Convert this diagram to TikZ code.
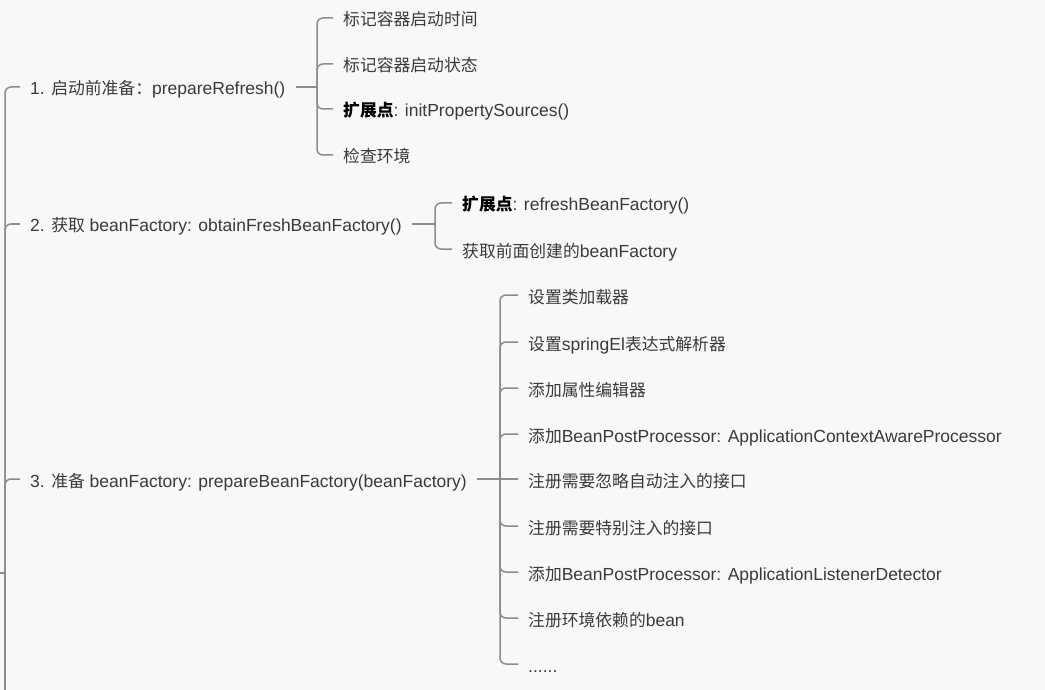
\documentclass[tikz,border=0pt]{standalone}
\usepackage{fontspec}
\setmainfont{Liberation Sans}
\newfontfamily\zh[Scale=0.96]{Noto Sans CJK SC}
\definecolor{bgcol}{HTML}{F8F8F8}
\definecolor{txtcol}{HTML}{3A3A3A}
\definecolor{linecol}{HTML}{8C8C8C}
\begin{document}
\begin{tikzpicture}[
x=1pt,
y=-1pt,
every node/.style={
anchor=west,
inner xsep=10pt,
inner ysep=0pt,
text height=17pt,
text depth=1pt,
text=txtcol,
font=\fontsize{17.5}{21}\selectfont
},
branch/.style={
draw=linecol,
line width=1.5pt,
rounded corners=6pt
}
]

\fill[bgcol] (0,0) rectangle (1045,690);
\useasboundingbox (0,0) rectangle (1045,690);

\coordinate (RootIn) at (-10,573);
\coordinate (RootJ) at (5,573);
\coordinate (RootEnd) at (5,700);

\node (Prep) at (20,87)
{1. {\zh 启动前准备：}prepareRefresh()};

\node (Obtain) at (20,224)
{2. {\zh 获取} beanFactory: obtainFreshBeanFactory()};

\node (PrepBF) at (20,479)
{3. {\zh 准备} beanFactory: prepareBeanFactory(beanFactory)};

\coordinate (PrepJ) at (317,87);

\node (MarkTime) at (333,18)
{\zh 标记容器启动时间};

\node (MarkState) at (333,64)
{\zh 标记容器启动状态};

\node (InitProp) at (333,109)
{{\zh\bfseries\color{black}扩展点}: initPropertySources()};

\node (CheckEnv) at (333,155)
{\zh 检查环境};

\coordinate (ObtainJ) at (435,224);

\node (RefreshBF) at (452,203)
{{\zh\bfseries\color{black}扩展点}: refreshBeanFactory()};

\node (GetBF) at (452,249)
{{\zh 获取前面创建的}beanFactory};

\coordinate (PrepBFJ) at (500,479);

\node (Loader) at (518,295)
{\zh 设置类加载器};

\node (ElParser) at (518,342)
{{\zh 设置}springEl{\zh 表达式解析器}};

\node (Editor) at (518,388)
{\zh 添加属性编辑器};

\node (AwareProc) at (518,434)
{{\zh 添加}BeanPostProcessor: ApplicationContextAwareProcessor};

\node (IgnoreIf) at (518,479)
{\zh 注册需要忽略自动注入的接口};

\node (SpecialIf) at (518,526)
{\zh 注册需要特别注入的接口};

\node (ListenerDet) at (518,572)
{{\zh 添加}BeanPostProcessor: ApplicationListenerDetector};

\node (EnvBean) at (518,618)
{{\zh 注册环境依赖的}bean};

\node (More) at (518,664)
{......};

\draw[branch] (RootIn) -- (RootJ);
\draw[branch] (RootJ) -- (RootEnd);
\draw[branch] (RootJ) |- (Prep.west);
\draw[branch] (RootJ) |- (Obtain.west);
\draw[branch] (RootJ) |- (PrepBF.west);

\draw[branch] (Prep.east) -- (PrepJ);
\draw[branch] (PrepJ) |- (MarkTime.west);
\draw[branch] (PrepJ) |- (MarkState.west);
\draw[branch] (PrepJ) |- (InitProp.west);
\draw[branch] (PrepJ) |- (CheckEnv.west);

\draw[branch] (Obtain.east) -- (ObtainJ);
\draw[branch] (ObtainJ) |- (RefreshBF.west);
\draw[branch] (ObtainJ) |- (GetBF.west);

\draw[branch] (PrepBF.east) -- (PrepBFJ);
\draw[branch] (PrepBFJ) |- (Loader.west);
\draw[branch] (PrepBFJ) |- (ElParser.west);
\draw[branch] (PrepBFJ) |- (Editor.west);
\draw[branch] (PrepBFJ) |- (AwareProc.west);
\draw[branch] (PrepBFJ) -- (IgnoreIf.west);
\draw[branch] (PrepBFJ) |- (SpecialIf.west);
\draw[branch] (PrepBFJ) |- (ListenerDet.west);
\draw[branch] (PrepBFJ) |- (EnvBean.west);
\draw[branch] (PrepBFJ) |- (More.west);

\end{tikzpicture}
\end{document}
